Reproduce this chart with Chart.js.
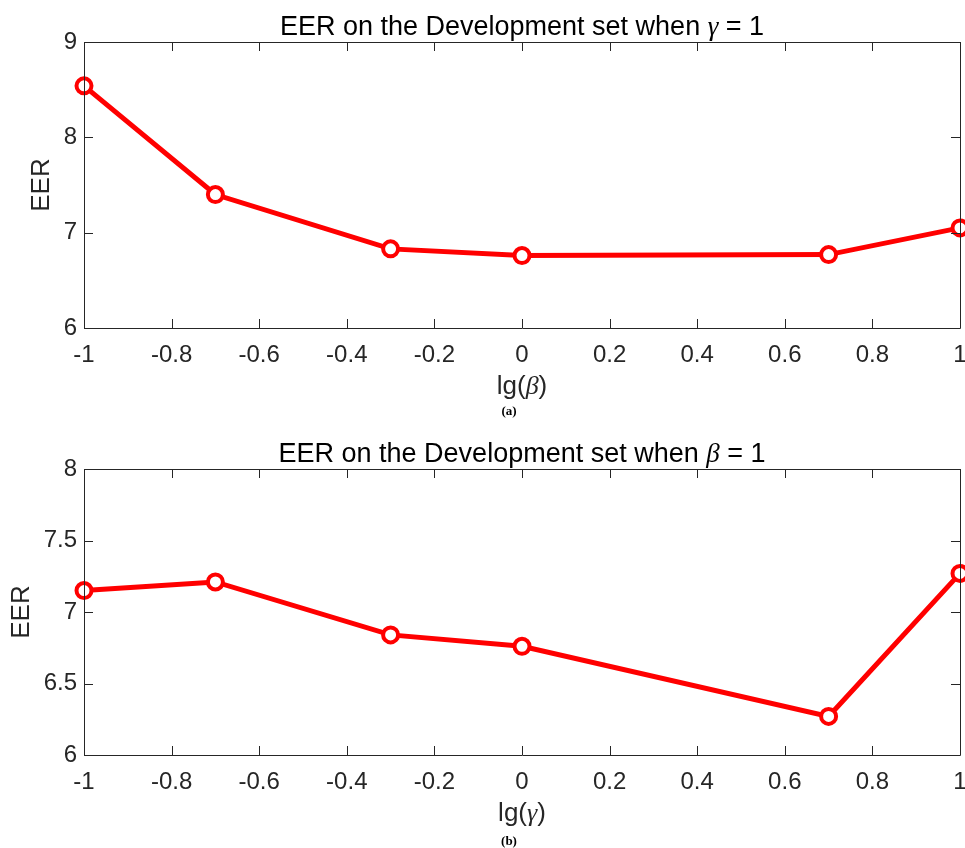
<!DOCTYPE html>
<html>
<head>
<meta charset="utf-8">
<script src="https://cdn.jsdelivr.net/npm/chart.js@4"></script>
<style>
  html, body { margin: 0; padding: 0; background: #ffffff; }
  #wrap { position: relative; width: 965px; height: 848px; overflow: hidden; }
  canvas { position: absolute; left: 0; }
</style>
</head>
<body>
<div id="wrap">
  <canvas id="c1" width="965" height="424" style="top:0px"></canvas>
  <canvas id="c2" width="965" height="424" style="top:424px"></canvas>
</div>
<script>
// ---- data ----
const lgValues = [-1, -0.7, -0.3, 0, 0.7, 1];
const eerBeta  = [8.54, 7.40, 6.83, 6.76, 6.77, 7.05];   // (a) varying beta, gamma = 1
const eerGamma = [7.15, 7.21, 6.84, 6.76, 6.27, 7.27];   // (b) varying gamma, beta = 1
const xTickLabels = ['-1', '-0.8', '-0.6', '-0.4', '-0.2', '0', '0.2', '0.4', '0.6', '0.8', '1'];
const yTicksA = ['6', '7', '8', '9'];
const yTicksB = ['6', '6.5', '7', '7.5', '8'];
const titleA = ['EER on the Development set when ', 'γ', ' = 1'];
const titleB = ['EER on the Development set when ', 'β', ' = 1'];
const xLabelA = ['lg(', 'β', ')'];
const xLabelB = ['lg(', 'γ', ')'];
const yLabel = 'EER';

const AXIS = '#262626';
const SANS = '"Liberation Sans", Arial, sans-serif';
const SERIF = '"Liberation Serif", "Times New Roman", serif';

function drawMixed(ctx, parts, cx, baseline, size) {
  const fonts = [size + 'px ' + SANS, 'italic ' + size + 'px ' + SERIF, size + 'px ' + SANS];
  let widths = parts.map((p, i) => { ctx.font = fonts[i]; return ctx.measureText(p).width; });
  let total = widths.reduce((a, b) => a + b, 0);
  let x = cx - total / 2;
  ctx.textAlign = 'left';
  ctx.textBaseline = 'alphabetic';
  parts.forEach((p, i) => { ctx.font = fonts[i]; ctx.fillText(p, x, baseline); x += widths[i]; });
}

function makeChart(id, values, yMin, yMax, yTicks, plotTop, title, xLabel, yLabelX, tag, tagY) {
  const decor = {
    id: 'decor' + id,
    afterDraw(chart) {
      const ctx = chart.ctx;
      const a = chart.chartArea;
      const xs = chart.scales.x, ys = chart.scales.y;
      ctx.save();
      ctx.strokeStyle = AXIS;
      ctx.lineWidth = 1;
      ctx.beginPath();
      ctx.rect(Math.round(a.left) + 0.5, Math.round(a.top) + 0.5, Math.round(a.right - a.left), Math.round(a.bottom - a.top));
      const TL = 9;
      xTickLabels.forEach(l => {
        const px = Math.round(xs.getPixelForValue(parseFloat(l))) + 0.5;
        ctx.moveTo(px, a.bottom); ctx.lineTo(px, a.bottom - TL);
        ctx.moveTo(px, a.top); ctx.lineTo(px, a.top + TL);
      });
      yTicks.forEach(l => {
        const py = Math.round(ys.getPixelForValue(parseFloat(l))) + 0.5;
        ctx.moveTo(a.left, py); ctx.lineTo(a.left + TL, py);
        ctx.moveTo(a.right, py); ctx.lineTo(a.right - TL, py);
      });
      ctx.stroke();
      ctx.fillStyle = '#000000';
      const cx = (a.left + a.right) / 2;
      drawMixed(ctx, title, cx, a.top - 7, 27);
      ctx.fillStyle = AXIS;
      drawMixed(ctx, xLabel, cx, a.bottom + 66, 26);
      ctx.save();
      ctx.translate(yLabelX, (a.top + a.bottom) / 2);
      ctx.rotate(-Math.PI / 2);
      ctx.font = '26px ' + SANS;
      ctx.textAlign = 'center';
      ctx.textBaseline = 'middle';
      ctx.fillText(yLabel, 0, 0);
      ctx.restore();
      ctx.fillStyle = '#000000';
      ctx.font = 'bold 13px ' + SERIF;
      ctx.textAlign = 'center';
      ctx.textBaseline = 'middle';
      ctx.fillText(tag, 509, tagY);
      ctx.restore();
    }
  };
  return new Chart(document.getElementById(id), {
    type: 'line',
    data: {
      datasets: [{
        data: lgValues.map((x, i) => ({ x: x, y: values[i] })),
        borderColor: '#ff0000',
        borderWidth: 5,
        pointRadius: 7.5,
        pointHoverRadius: 7.5,
        pointBorderWidth: 4,
        pointBorderColor: '#ff0000',
        pointBackgroundColor: '#ffffff',
        tension: 0,
        clip: false
      }]
    },
    options: {
      responsive: false,
      animation: false,
      events: [],
      layout: { autoPadding: false, padding: { top: plotTop, right: 5, left: 0, bottom: 0 } },
      plugins: { legend: { display: false }, tooltip: { enabled: false }, title: { display: false } },
      scales: {
        x: {
          type: 'linear', min: -1, max: 1,
          afterBuildTicks: s => { s.ticks = xTickLabels.map(v => ({ value: parseFloat(v) })); },
          afterFit: s => { s.height = 424 - plotTop - 286; s.paddingLeft = 0; s.paddingRight = 0; },
          grid: { display: false, drawTicks: false },
          border: { display: false },
          ticks: {
            padding: 13, color: AXIS, maxRotation: 0, autoSkip: false,
            font: { family: SANS, size: 24 },
            callback: (v) => xTickLabels.find(l => Math.abs(parseFloat(l) - v) < 1e-9)
          }
        },
        y: {
          type: 'linear', min: yMin, max: yMax,
          afterBuildTicks: s => { s.ticks = yTicks.map(v => ({ value: parseFloat(v) })); },
          afterFit: s => { s.width = 84; s.paddingTop = 0; s.paddingBottom = 0; },
          grid: { display: false, drawTicks: false },
          border: { display: false },
          ticks: {
            padding: 7, color: AXIS, autoSkip: false,
            font: { family: SANS, size: 24 },
            callback: (v) => yTicks.find(l => Math.abs(parseFloat(l) - v) < 1e-9)
          }
        }
      }
    },
    plugins: [decor]
  });
}

makeChart('c1', eerBeta, 6, 9, yTicksA, 42, titleA, xLabelA, 42, '(a)', 412);
makeChart('c2', eerGamma, 6, 8, yTicksB, 45, titleB, xLabelB, 22, '(b)', 418);
</script>
</body>
</html>
